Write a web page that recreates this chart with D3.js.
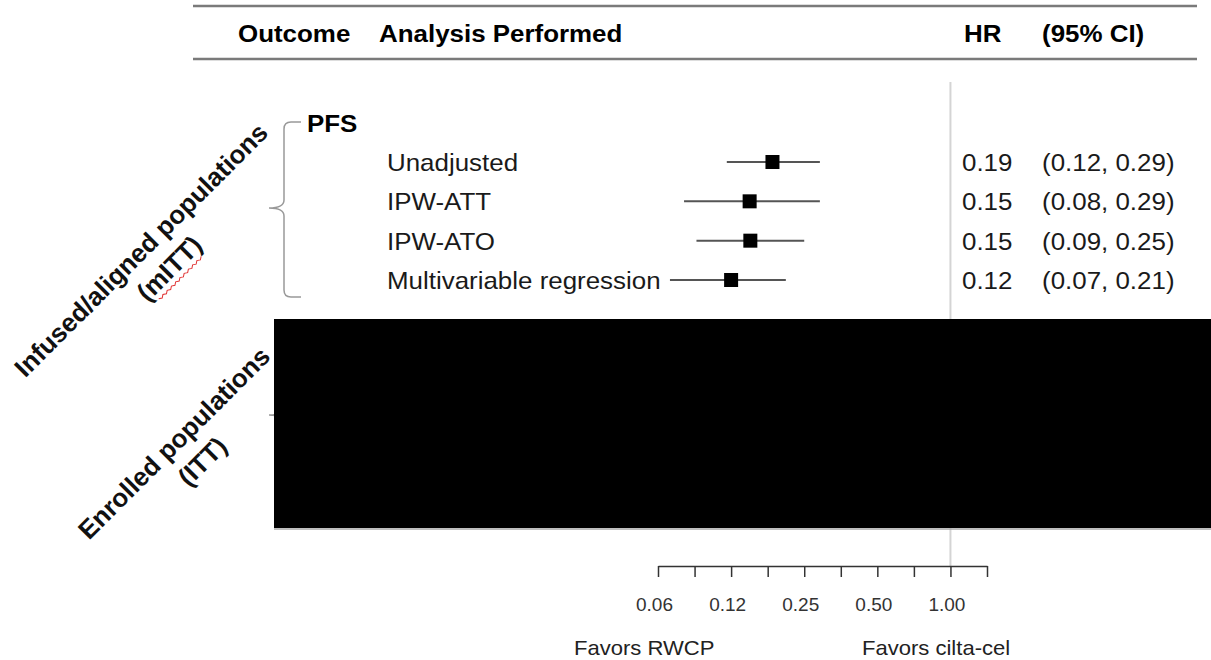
<!DOCTYPE html>
<html>
<head>
<meta charset="utf-8">
<script src="https://cdn.jsdelivr.net/npm/d3@7"></script>
<style>
  body { margin: 0; background: #fff; }
  svg { display: block; font-family: "Liberation Sans", Arial, sans-serif; }
</style>
</head>
<body>
<div id="graph"></div>
<script>
// rows of the PFS block
const analyses = ["Unadjusted", "IPW-ATT", "IPW-ATO", "Multivariable regression"]
const hr = [0.185, 0.149, 0.15, 0.125]
const lower = [0.12, 0.08, 0.09, 0.07]
const upper = [0.29, 0.29, 0.25, 0.21]
const hrLabels = ["0.19", "0.15", "0.15", "0.12"]
const ciLabels = ["(0.12, 0.29)", "(0.08, 0.29)", "(0.09, 0.25)", "(0.07, 0.21)"]

// log2 axis
const tickValues = [0.0625, 0.0884, 0.125, 0.1768, 0.25, 0.3536, 0.5, 0.7071, 1, 1.4142]
const tickLabels = ["0.06", "", "0.12", "", "0.25", "", "0.50", "", "1.00", ""]

const width = 1211
const height = 660
const sx = 1.08

const svg = d3.select("#graph").append("svg")
    .attr("width", width)
    .attr("height", height)

const x = d3.scaleLog().base(2)
    .domain([tickValues[0], tickValues[tickValues.length - 1]])
    .range([658, 987])

const y = d3.scalePoint()
    .domain(analyses)
    .range([162, 280])

function label(x0, y0, str, opts = {}) {
    return svg.append("text")
        .attr("transform", `translate(${x0},${y0}) scale(${opts.sx || sx},1)`)
        .attr("font-size", opts.size || 24)
        .attr("font-weight", opts.bold ? "bold" : null)
        .attr("text-anchor", opts.anchor || "start")
        .attr("fill", opts.fill || "#1a1a1a")
        .text(str)
}

// Header
svg.append("g")
    .attr("stroke", "#7a7a7a")
    .attr("stroke-width", 2.5)
    .selectAll()
    .data([6, 59])
    .join("line")
    .attr("x1", 193)
    .attr("x2", 1197)
    .attr("y1", d => d)
    .attr("y2", d => d)

label(238, 42, "Outcome", {bold: true, fill: "#000"})
label(379, 42, "Analysis Performed", {bold: true, fill: "#000"})
label(964, 42, "HR", {bold: true, fill: "#000"})
label(1042, 42, "(95% CI)", {bold: true, fill: "#000"})

// Reference line at HR = 1
svg.append("line")
    .attr("x1", x(1))
    .attr("x2", x(1))
    .attr("y1", 82)
    .attr("y2", 566)
    .attr("stroke", "#d4d4d4")
    .attr("stroke-width", 2)

// Braces
function brace(top, bottom, mid) {
    const xs = 284
    return `M301,${top} L291,${top} Q${xs},${top} ${xs},${top + 7} L${xs},${mid - 8} Q${xs},${mid} 269,${mid} Q${xs},${mid} ${xs},${mid + 8} L${xs},${bottom - 7} Q${xs},${bottom} 291,${bottom} L301,${bottom}`
}
svg.append("path")
    .attr("d", brace(122, 297, 208))
    .attr("fill", "none")
    .attr("stroke", "#999")
    .attr("stroke-width", 1.5)
svg.append("path")
    .attr("d", brace(335, 500, 415))
    .attr("fill", "none")
    .attr("stroke", "#999")
    .attr("stroke-width", 1.5)

// Rotated group labels
function groupLabel(cx, cy, line1, line2, squiggle) {
    const g = svg.append("g")
        .attr("transform", `translate(${cx},${cy}) rotate(-45)`)
        .attr("font-size", 26)
        .attr("font-weight", "bold")
        .attr("text-anchor", "middle")
        .attr("fill", "#111")
    g.append("text").attr("y", 9).text(line1)
    g.append("text").attr("x", 7).attr("y", 42).text(line2)
    if (squiggle) {
        let d = "M-22,47"
        for (let i = 1; i <= 20; i++) d += ` L${-22 + i * 3},${i % 2 ? 49 : 47}`
        g.append("path")
            .attr("d", d)
            .attr("fill", "none")
            .attr("stroke", "#e03030")
            .attr("stroke-width", 1)
    }
}
groupLabel(141, 250, "Infused/aligned populations", "(mITT)", true)
groupLabel(174, 443, "Enrolled populations", "(ITT)", false)

// PFS block
label(307, 132, "PFS", {bold: true, fill: "#000"})

analyses.forEach((a, i) => {
    label(387, y(a) + 9, a)
    label(962, y(a) + 9, hrLabels[i])
    label(1042, y(a) + 9, ciLabels[i])
})

// CI whiskers
svg.append("g")
    .attr("stroke", "#555")
    .attr("stroke-width", 2)
    .selectAll()
    .data(analyses)
    .join("line")
    .attr("x1", (d, i) => x(lower[i]))
    .attr("x2", (d, i) => x(upper[i]))
    .attr("y1", d => y(d))
    .attr("y2", d => y(d))

// Point estimates
const sq = 14
svg.append("g")
    .attr("fill", "#000")
    .selectAll()
    .data(analyses)
    .join("rect")
    .attr("x", (d, i) => x(hr[i]) - sq / 2)
    .attr("y", d => y(d) - sq / 2)
    .attr("width", sq)
    .attr("height", sq)

// Redacted block
svg.append("rect")
    .attr("x", 274)
    .attr("y", 319)
    .attr("width", width - 274)
    .attr("height", 209)
    .attr("fill", "#000")
svg.append("line")
    .attr("x1", 274)
    .attr("x2", width)
    .attr("y1", 529)
    .attr("y2", 529)
    .attr("stroke", "#aaa")
    .attr("stroke-width", 1.5)

// X axis
const axis = svg.append("g")
    .attr("transform", "translate(0,566)")
    .style("color", "#333")
    .call(d3.axisBottom(x)
        .tickValues(tickValues)
        .tickFormat((d, i) => tickLabels[i])
        .tickSize(11)
        .tickSizeOuter(0))
axis.select(".domain").attr("stroke-width", 1.5)
axis.selectAll(".tick line").attr("stroke-width", 1.5)
axis.selectAll(".tick text")
    .attr("font-family", "Liberation Sans, Arial, sans-serif")
    .attr("font-size", 19)
    .attr("fill", "#333")
    .attr("dy", null)
    .attr("y", 45)
    .attr("x", -4)

// Direction labels
label(574, 655, "Favors RWCP", {size: 21, sx: 1.05, fill: "#222"})
label(862, 655, "Favors cilta-cel", {size: 21, sx: 1.05, fill: "#222"})
</script>
</body>
</html>
